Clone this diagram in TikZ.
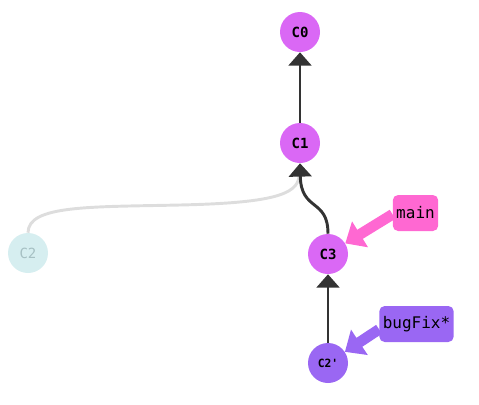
\documentclass[tikz,border=0pt]{standalone}
\usepackage{fontspec}
\setmonofont{DejaVu Sans Mono}
\usetikzlibrary{arrows.meta}
\definecolor{commitfill}{HTML}{DA68F5}
\definecolor{rebasefill}{HTML}{9A67F3}
\definecolor{mainfill}{HTML}{FF68D2}
\definecolor{oldfill}{HTML}{D6EEF0}
\definecolor{oldtext}{HTML}{A6C0C3}
\definecolor{edgecol}{HTML}{333333}
\definecolor{oldedge}{HTML}{DDDDDD}
\tikzset{
  commit/.style={circle,fill=commitfill,minimum size=30pt,inner sep=0pt,
    font=\ttfamily\bfseries\fontsize{10.5}{12}\selectfont},
  branch/.style={rounded corners=4pt,minimum height=27pt,inner xsep=2.6pt,
    font=\ttfamily\fontsize{12}{14}\selectfont},
  parent/.style={draw=edgecol,line width=2.2pt,
    -{Triangle[width=17pt,length=10pt]}},
  pointer/.style={line width=8pt,-{Triangle[width=22pt,length=13pt]}}
}
\begin{document}
\begin{tikzpicture}[x=0.75pt,y=-0.75pt]
  \useasboundingbox (0,0) rectangle (479,404);

  \node[commit] (c0) at (300,32) {C0};
  \node[commit] (c1) at (300,143) {C1};
  \node[commit,fill=oldfill,text=oldtext,font=\ttfamily\fontsize{10.5}{12}\selectfont] (c2) at (28,253) {C2};
  \node[commit] (c3) at (328,254) {C3};
  \node[commit,fill=rebasefill,font=\ttfamily\bfseries\fontsize{8.5}{10}\selectfont] (c2r) at (328,363) {C2'};

  \node[branch,fill=mainfill] (main) at (415.5,213) {main};
  \node[branch,fill=rebasefill] (bugfix) at (416.5,324) {bugFix*};

  % the old commit, left behind
  \draw[oldedge,line width=2.2pt] (c2.north) .. controls (28,205) and (90,207) .. (180,205)
    .. controls (270,203) and (298,195) .. (299,176);

  \draw[parent] (c1) -- (c0);
  \draw[parent] (c3.north) .. controls (328,198) and (301,212) .. (c1.south);
  \draw[parent] (c2r) -- (c3);

  % branch pointers
  \draw[pointer,mainfill] ([yshift=-1pt]main.west) -- (c3);
  \draw[pointer,rebasefill] ([yshift=-4pt]bugfix.west) -- (c2r);
\end{tikzpicture}
\end{document}
